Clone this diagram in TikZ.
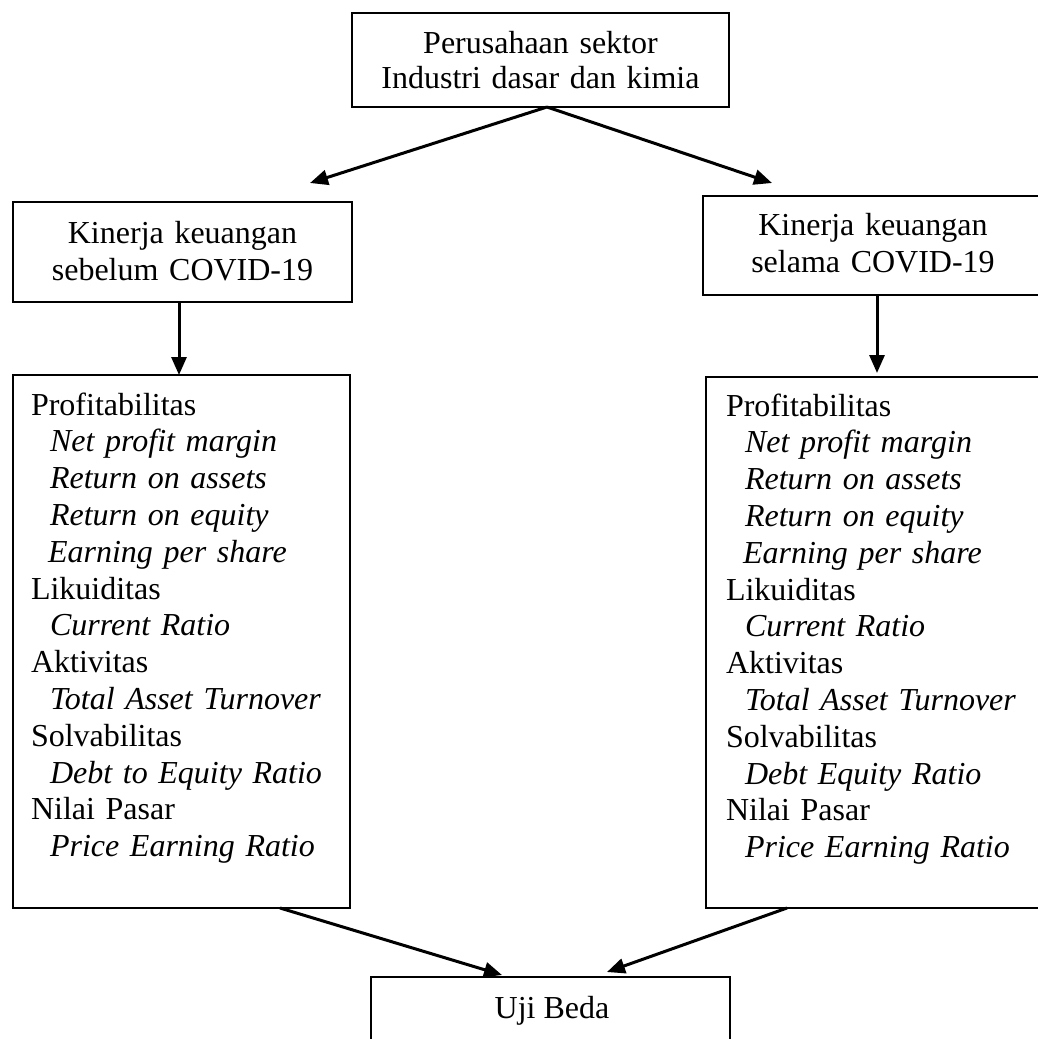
\documentclass[tikz,border=0pt]{standalone}
\usepackage{fontspec}
\setmainfont{Liberation Serif}
\usetikzlibrary{arrows.meta}
\begin{document}
\begin{tikzpicture}[x=1pt,y=-1pt,
  box/.style={draw,line width=2pt,inner sep=0pt,outer sep=0pt,anchor=north west},
  txt/.style={inner sep=0pt,outer sep=0pt,font=\fontsize{32}{36.8}\selectfont},
  arr/.style={line width=3pt,-{Triangle[length=18pt,width=15pt]}}]
\useasboundingbox (0,0) rectangle (1038,1039);
\clip (0,0) rectangle (1038,1039);
% boxes
\node[box,minimum width=377pt,minimum height=94pt] (top) at (352,13) {};
\node[box,minimum width=339pt,minimum height=100pt] (kl) at (13,202) {};
\node[box,minimum width=337pt,minimum height=99pt] (kr) at (703,196) {};
\node[box,minimum width=337pt,minimum height=533pt] (bl) at (13,375) {};
\node[box,minimum width=334pt,minimum height=531pt] (br) at (706,377) {};
\node[box,minimum width=359pt,minimum height=100pt] (uji) at (371,977) {};
% texts
\node[txt,anchor=base,text width=420pt,align=center,font=\fontsize{32}{35}\selectfont] (toptxt) at (540.5,53)
  {Perusahaan sektor\\Industri dasar dan kimia};
\node[txt,anchor=base,text width=330pt,align=center,font=\fontsize{32}{37}\selectfont] (kltxt) at (182.5,243)
  {Kinerja keuangan\\sebelum COVID-19};
\node[txt,anchor=base,text width=330pt,align=center,font=\fontsize{32}{37}\selectfont] (krtxt) at (873,235)
  {Kinerja keuangan\\selama COVID-19};
\node[txt,anchor=base] (ujitxt) at (552,1018) {Uji Beda};
\node[txt,anchor=base west,text width=320pt,align=left] (bltxt) at (31,415)
  {Profitabilitas\\
   \hspace*{19pt}\textit{Net profit margin}\\
   \hspace*{19pt}\textit{Return on assets}\\
   \hspace*{19pt}\textit{Return on equity}\\
   \hspace*{17pt}\textit{Earning per share}\\
   Likuiditas\\
   \hspace*{19pt}\textit{Current Ratio}\\
   Aktivitas\\
   \hspace*{19pt}\textit{Total Asset Turnover}\\
   Solvabilitas\\
   \hspace*{19pt}\textit{Debt to Equity Ratio}\\
   Nilai Pasar\\
   \hspace*{19pt}\textit{Price Earning Ratio}};
\node[txt,anchor=base west,text width=320pt,align=left] (brtxt) at (726,416)
  {Profitabilitas\\
   \hspace*{19pt}\textit{Net profit margin}\\
   \hspace*{19pt}\textit{Return on assets}\\
   \hspace*{19pt}\textit{Return on equity}\\
   \hspace*{17pt}\textit{Earning per share}\\
   Likuiditas\\
   \hspace*{19pt}\textit{Current Ratio}\\
   Aktivitas\\
   \hspace*{19pt}\textit{Total Asset Turnover}\\
   Solvabilitas\\
   \hspace*{19pt}\textit{Debt Equity Ratio}\\
   Nilai Pasar\\
   \hspace*{19pt}\textit{Price Earning Ratio}};
% connectors
\coordinate (tl) at (310,183);
\coordinate (tr) at (772,183);
\draw[arr] ([xshift=6.5pt]top.south) -- (tl);
\draw[arr] ([xshift=6.5pt]top.south) -- (tr);
\draw[arr] ([xshift=-3.5pt]kl.south) -- ([xshift=-2.5pt]bl.north);
\draw[arr] ([xshift=5.5pt]kr.south) -- ([xshift=4pt,yshift=4pt]br.north);
\draw[arr] ([xshift=98.5pt]bl.south) -- ([xshift=-48.5pt,yshift=2pt]uji.north);
\draw[arr] ([xshift=-86pt]br.south) -- ([xshift=56.5pt,yshift=5pt]uji.north);
\end{tikzpicture}
\end{document}
